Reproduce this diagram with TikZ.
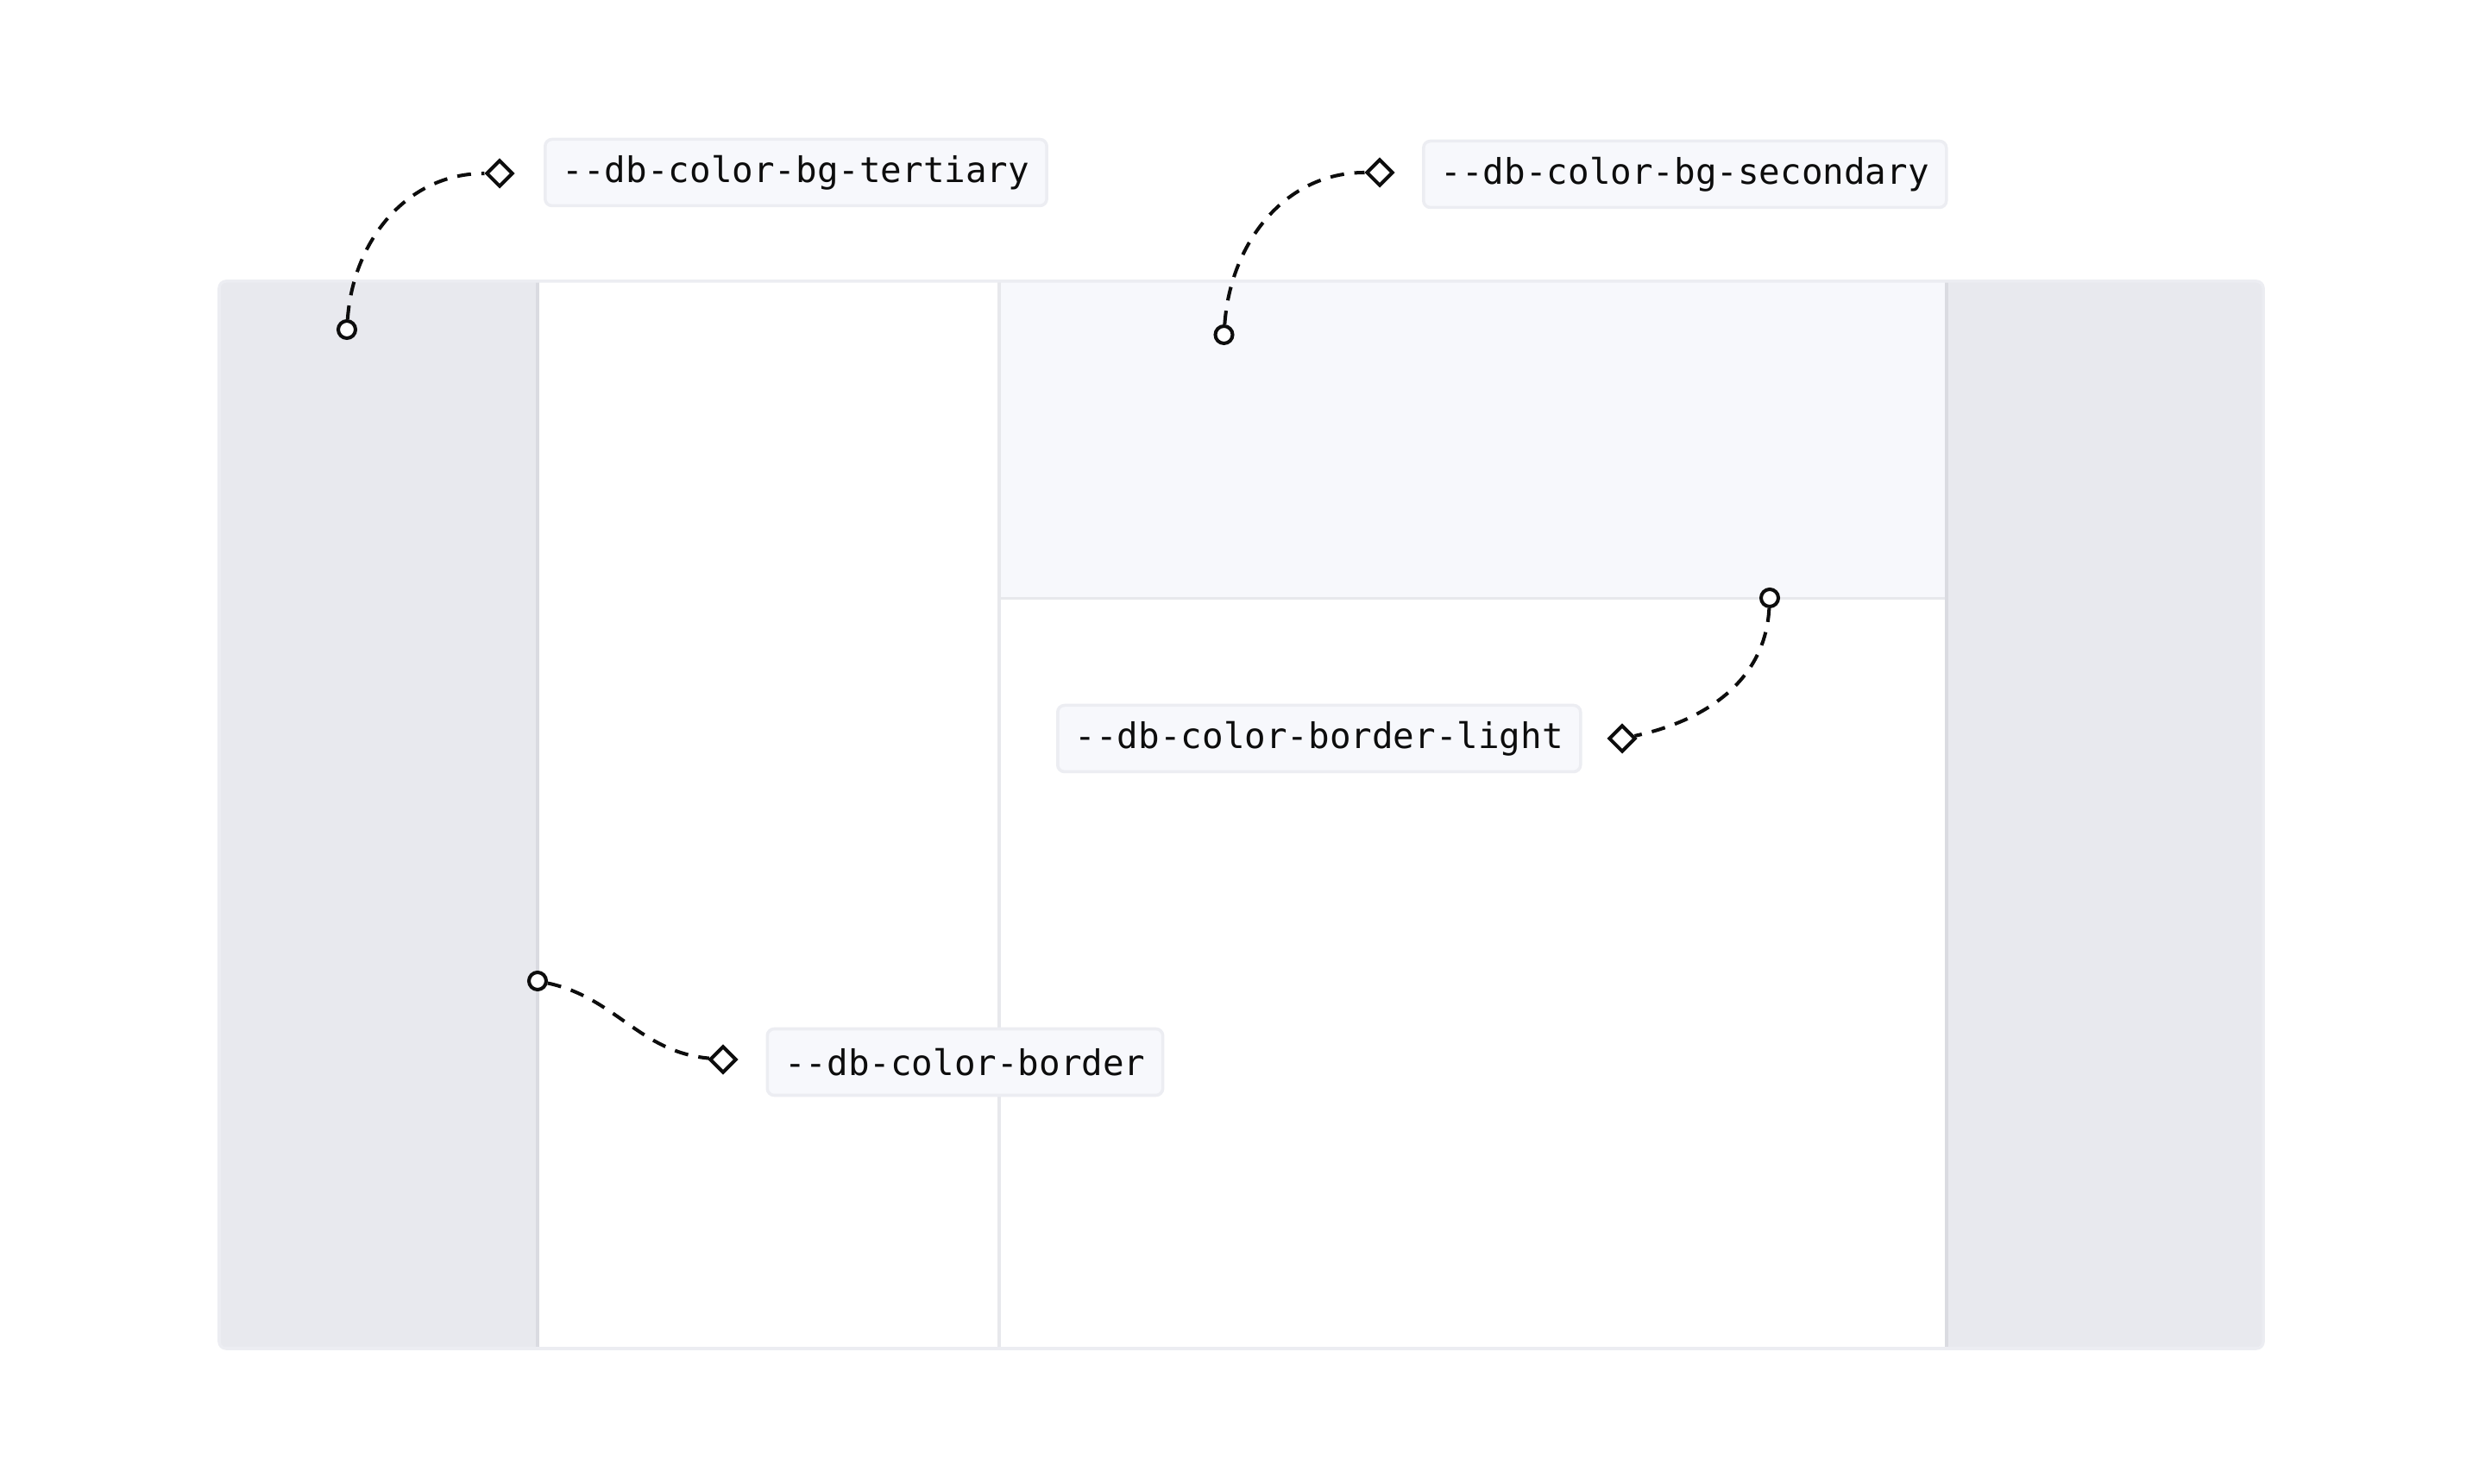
\documentclass[tikz,border=0pt]{standalone}
\usepackage{fontspec}
\setmonofont{DejaVu Sans Mono}
\usetikzlibrary{shapes.geometric}
\definecolor{sidebg}{HTML}{E8E9EE}
\definecolor{headbg}{HTML}{F7F8FC}
\definecolor{frameline}{HTML}{ECEDF2}
\definecolor{sideline}{HTML}{DADBE1}
\definecolor{divline}{HTML}{E7E8EC}
\definecolor{ink}{HTML}{0D0D0D}
\tikzset{
	tag/.style = {draw = frameline, line width = 1pt, fill = headbg, rounded corners = 0.08cm, anchor = west, inner xsep = 0.2cm, minimum height = 0.77cm, text = ink, font = \ttfamily\fontsize{11.63pt}{14pt}\selectfont},
	pin/.style = {draw = ink, circle, line width = 1.15pt, fill = white, inner sep = 0pt, minimum size = 0.2cm},
	tip/.style = {draw = ink, diamond, line width = 1.15pt, fill = white, inner sep = 0pt, minimum size = 0.31cm},
	lead/.style = {draw = ink, line width = 1.15pt, dash pattern = on 0.16cm off 0.12cm}
}
\begin{document}
\begin{tikzpicture}
						\useasboundingbox (0, 0) rectangle (28.8, 17.2);
						\fill [sidebg, rounded corners = 0.08cm] (2.54, 1.57) rectangle (26.23, 13.94);
						\fill [white] (6.23, 1.57) rectangle (22.56, 13.94);
						\fill [headbg] (11.58, 10.265) rectangle (22.56, 13.94);
						\draw [divline, line width = 1.1pt] (11.58, 10.265) to (22.56, 10.265);
						\draw [divline, line width = 1.1pt] (11.58, 1.57) to (11.58, 13.94);
						\draw [sideline, line width = 1.1pt] (6.23, 1.57) to (6.23, 13.94);
						\draw [sideline, line width = 1.1pt] (22.56, 1.57) to (22.56, 13.94);
						\draw [frameline, line width = 1pt, rounded corners = 0.08cm] (2.54, 1.57) rectangle (26.23, 13.94);
						\node [pin] (p1) at (4.02, 13.38) {};
						\node [pin] (p2) at (14.185, 13.32) {};
						\node [pin] (p3) at (20.51, 10.27) {};
						\node [pin] (p4) at (6.23, 5.83) {};
						\node [tip] (d1) at (5.79, 15.19) {};
						\node [tip] (d2) at (15.99, 15.20) {};
						\node [tip] (d3) at (18.80, 8.64) {};
						\node [tip] (d4) at (8.38, 4.92) {};
						\node [tag] (t1) at (6.30, 15.20) {-{}-db-color-bg-tertiary};
						\node [tag] (t2) at (16.48, 15.18) {-{}-db-color-bg-secondary};
						\node [tag] (t3) at (12.24, 8.64) {-{}-db-color-border-light};
						\node [tag] (t4) at (8.875, 4.89) {-{}-db-color-border};
						\draw [lead] (p1) to [out = 86, in = 180] (d1);
						\draw [lead] (p2) to [out = 86, in = 180] (d2);
						\draw [lead] (p3) to [out = -93, in = 12] (d3);
						\draw [lead] (p4) to [out = -12, in = 175] (d4);
					\end{tikzpicture}
\end{document}
